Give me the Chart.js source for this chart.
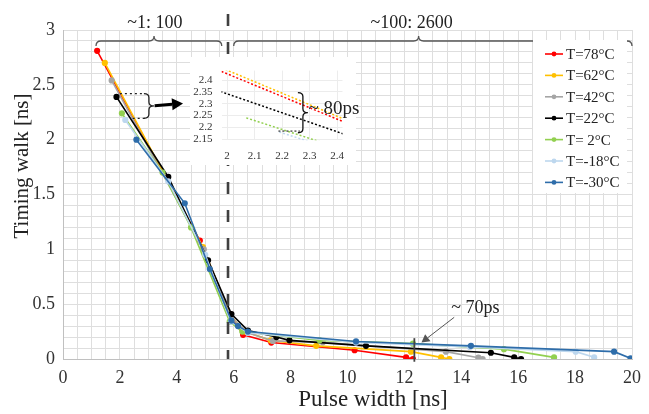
<!DOCTYPE html>
<html>
<head>
<meta charset="utf-8">
<script src="https://cdn.jsdelivr.net/npm/chart.js@4.4.1/dist/chart.umd.min.js"></script>
<style>
  body { margin: 0; background: #fff; }
  #wrap { position: relative; width: 649px; height: 414px; }
  #main { position: absolute; left: 0; top: 0; }
  #inset { position: absolute; left: 188px; top: 55px; }
</style>
</head>
<body>
<div id="wrap">
  <canvas id="main" width="649" height="414"></canvas>
  <canvas id="inset" width="185" height="112"></canvas>
</div>
<script>
// series: pulse width [ns] vs timing walk [ns]
const seriesLabels = ['T=78°C', 'T=62°C', 'T=42°C', 'T=22°C', 'T= 2°C', 'T=-18°C', 'T=-30°C'];
const seriesColors = ['#ff0000', '#ffc000', '#a5a5a5', '#000000', '#92d050', '#bdd7ee', '#2e6daa'];

const x78 = [1.2, 4.81, 5.88, 6.33, 7.32, 10.25, 12.06, 12.3];
const y78 = [2.81, 1.08, 0.41, 0.22, 0.15, 0.08, 0.015, 0.0];
const x62 = [1.47, 4.92, 5.9, 6.4, 7.3, 8.9, 12.23, 13.29, 13.58];
const y62 = [2.70, 1.02, 0.39, 0.25, 0.17, 0.12, 0.067, 0.015, 0.0];
const x42 = [1.71, 4.95, 5.9, 6.5, 7.38, 9.13, 13.46, 14.6, 14.75];
const y42 = [2.54, 1.0, 0.38, 0.24, 0.165, 0.152, 0.067, 0.012, 0.0];
const x22 = [1.88, 3.7, 5.1, 5.92, 6.5, 7.5, 7.96, 10.65, 15.04, 15.86, 16.1];
const y22 = [2.39, 1.66, 0.9, 0.41, 0.26, 0.2, 0.17, 0.12, 0.057, 0.015, 0.0];
const x2 = [2.07, 3.5, 4.5, 5.86, 6.3, 9.02, 12.3, 15.5, 17.26];
const y2 = [2.24, 1.70, 1.2, 0.34, 0.25, 0.17, 0.14, 0.09, 0.015];
const xm18 = [2.19, 3.7, 5.0, 5.9, 6.5, 10.3, 14.3, 18.02, 18.67];
const ym18 = [2.18, 1.62, 0.95, 0.34, 0.24, 0.15, 0.11, 0.067, 0.015];
const xm30 = [2.58, 4.28, 5.16, 5.92, 6.15, 6.5, 10.3, 14.34, 19.37, 19.95];
const ym30 = [2.0, 1.42, 0.82, 0.35, 0.30, 0.25, 0.16, 0.12, 0.067, 0.006];

const xTickLabels = [0, 2, 4, 6, 8, 10, 12, 14, 16, 18, 20];
const yTickLabels = [0, 0.5, 1, 1.5, 2, 2.5, 3];
const insetXTicks = [2, 2.1, 2.2, 2.3, 2.4];
const insetYTicks = [2.15, 2.2, 2.25, 2.3, 2.35, 2.4];

const seriesX = [x78, x62, x42, x22, x2, xm18, xm30];
const seriesY = [y78, y62, y42, y22, y2, ym18, ym30];

const breakX = 5.8;
const serif = "'Liberation Serif', 'Times New Roman', serif";
Chart.defaults.font.family = serif;

function pts(xs, ys) {
  return xs.map((x, i) => ({ x: x, y: ys[i] }));
}
function onList(v, list) {
  return list.some(t => Math.abs(t - v) < 1e-6);
}

function hBrace(ctx, x1, x2, xm, yb, h) {
  const r = 5;
  ctx.beginPath();
  ctx.moveTo(x1, yb + h);
  ctx.quadraticCurveTo(x1, yb, x1 + r, yb);
  ctx.lineTo(xm - r, yb);
  ctx.quadraticCurveTo(xm, yb, xm, yb - h);
  ctx.quadraticCurveTo(xm, yb, xm + r, yb);
  ctx.lineTo(x2 - r, yb);
  ctx.quadraticCurveTo(x2, yb, x2, yb + h);
  ctx.stroke();
}
function vBrace(ctx, x, y1, y2, w) {
  const ym = (y1 + y2) / 2, r = 4;
  ctx.beginPath();
  ctx.moveTo(x - w, y1);
  ctx.quadraticCurveTo(x, y1, x, y1 + r);
  ctx.lineTo(x, ym - r);
  ctx.quadraticCurveTo(x, ym, x + w, ym);
  ctx.quadraticCurveTo(x, ym, x, ym + r);
  ctx.lineTo(x, y2 - r);
  ctx.quadraticCurveTo(x, y2, x - w, y2);
  ctx.stroke();
}
function arrow(ctx, x1, y1, x2, y2, width, head, color) {
  const a = Math.atan2(y2 - y1, x2 - x1);
  const bx = x2 - head * Math.cos(a), by = y2 - head * Math.sin(a);
  ctx.strokeStyle = color; ctx.fillStyle = color; ctx.lineWidth = width;
  ctx.beginPath(); ctx.moveTo(x1, y1); ctx.lineTo(bx, by); ctx.stroke();
  ctx.beginPath();
  ctx.moveTo(x2, y2);
  ctx.lineTo(bx + head * 0.55 * Math.sin(a), by - head * 0.55 * Math.cos(a));
  ctx.lineTo(bx - head * 0.55 * Math.sin(a), by + head * 0.55 * Math.cos(a));
  ctx.closePath(); ctx.fill();
}

// dashed break line, braces, arrows and notes on the main chart
const annotations = {
  id: 'annotations',
  afterDatasetsDraw(chart) {
    const ctx = chart.ctx, sx = chart.scales.x, sy = chart.scales.y;
    const px = v => sx.getPixelForValue(v), py = v => sy.getPixelForValue(v);
    ctx.save();

    // break line
    ctx.strokeStyle = '#404040'; ctx.lineWidth = 2.6; ctx.setLineDash([12, 16]);
    ctx.beginPath(); ctx.moveTo(px(breakX), 14); ctx.lineTo(px(breakX), py(0)); ctx.stroke();
    ctx.setLineDash([]);

    // braces at the top
    ctx.strokeStyle = '#555'; ctx.lineWidth = 1.3;
    hBrace(ctx, px(1.16), px(5.58), px(3.2), 41, 5);
    hBrace(ctx, px(6.0), px(20), px(12.5), 41, 5);
    ctx.fillStyle = '#222'; ctx.font = '18px ' + serif;
    ctx.textAlign = 'center'; ctx.textBaseline = 'middle';
    ctx.fillText('~1: 100', px(3.23), 23);
    ctx.fillText('~100: 2600', px(12.25), 23);

    // dotted zoom bracket
    ctx.strokeStyle = '#222'; ctx.lineWidth = 1.3; ctx.setLineDash([2, 3]);
    ctx.beginPath();
    ctx.moveTo(px(2.0), py(2.42)); ctx.lineTo(px(2.88), py(2.42));
    ctx.moveTo(px(2.45), py(2.195)); ctx.lineTo(px(2.88), py(2.195));
    ctx.stroke();
    ctx.setLineDash([]);
    vBrace(ctx, px(3.02), py(2.42), py(2.195), 5);
    arrow(ctx, px(3.22), py(2.31), px(4.22), py(2.33), 3, 11, '#000');

    // ~70ps note
    ctx.strokeStyle = '#444'; ctx.lineWidth = 1.8;
    ctx.beginPath(); ctx.moveTo(px(12.35), py(0.19)); ctx.lineTo(px(12.35), py(-0.025)); ctx.stroke();
    arrow(ctx, px(13.75), py(0.38), px(12.6), py(0.15), 1, 8, '#555');
    ctx.fillStyle = '#222'; ctx.font = '18px ' + serif; ctx.textAlign = 'left';
    ctx.fillText('~ 70ps', px(13.65), py(0.465));

    ctx.restore();
  }
};

// axis titles and legend drawn inside the plot
const decorations = {
  id: 'decorations',
  afterDraw(chart) {
    const ctx = chart.ctx;
    ctx.save();
    ctx.fillStyle = '#222';
    ctx.textAlign = 'center'; ctx.textBaseline = 'middle';
    ctx.font = '21px ' + serif;
    ctx.save();
    ctx.translate(22, 166); ctx.rotate(-Math.PI / 2);
    ctx.fillText('Timing walk [ns]', 0, 0);
    ctx.restore();
    ctx.font = '23px ' + serif;
    ctx.fillText('Pulse width [ns]', 373, 400);

    // legend
    ctx.fillStyle = '#fff';
    ctx.fillRect(533, 40, 94, 153);
    ctx.font = '15px ' + serif; ctx.textAlign = 'left';
    chart.data.datasets.forEach((ds, i) => {
      const y = 54 + i * 21.4;
      ctx.strokeStyle = ds.borderColor; ctx.lineWidth = 1.6;
      ctx.beginPath(); ctx.moveTo(545, y); ctx.lineTo(563, y); ctx.stroke();
      ctx.fillStyle = ds.borderColor;
      ctx.beginPath(); ctx.arc(554, y, 2.4, 0, Math.PI * 2); ctx.fill();
      ctx.fillStyle = '#222';
      ctx.fillText(ds.label, 566, y + 1);
    });
    ctx.restore();
  }
};

new Chart(document.getElementById('main'), {
  type: 'scatter',
  data: {
    datasets: seriesLabels.map((label, i) => ({
      label: label,
      data: pts(seriesX[i], seriesY[i]),
      showLine: true,
      borderColor: seriesColors[i],
      backgroundColor: seriesColors[i],
      borderWidth: 1.6,
      pointRadius: 2.3,
      pointHoverRadius: 2.3,
      order: seriesLabels.length - i
    }))
  },
  options: {
    responsive: false,
    animation: false,
    devicePixelRatio: 1,
    layout: { padding: { top: 30, right: 15, left: 0, bottom: 0 } },
    plugins: { legend: { display: false }, tooltip: { enabled: false } },
    scales: {
      x: {
        type: 'linear', min: 0, max: 20,
        ticks: {
          stepSize: 0.5, autoSkip: false, maxRotation: 0, padding: 8,
          color: '#333', font: { size: 18 },
          callback: v => onList(v, xTickLabels) ? String(v) : ''
        },
        grid: { color: '#dedede', drawTicks: false },
        border: { color: '#c0c0c0' },
        afterFit: s => { s.height = 55; }
      },
      y: {
        type: 'linear', min: 0, max: 3,
        ticks: {
          stepSize: 0.1, autoSkip: false, padding: 8,
          color: '#333', font: { size: 18 },
          callback: v => onList(v, yTickLabels) ? String(v) : ''
        },
        grid: { color: '#dedede', drawTicks: false },
        border: { color: '#c0c0c0' },
        afterFit: s => { s.width = 63; }
      }
    }
  },
  plugins: [annotations, decorations]
});

// zoomed inset around pulse width 2.0 - 2.4 ns
const insetDecor = {
  id: 'insetDecor',
  beforeDraw(chart) {
    const ctx = chart.ctx;
    ctx.save();
    ctx.fillStyle = '#fff';
    ctx.fillRect(2, 2, 166, 108);
    ctx.restore();
  },
  afterDatasetsDraw(chart) {
    const ctx = chart.ctx, sx = chart.scales.x, sy = chart.scales.y;
    const px = v => sx.getPixelForValue(v), py = v => sy.getPixelForValue(v);
    ctx.save();
    ctx.strokeStyle = '#333'; ctx.lineWidth = 1.2; ctx.setLineDash([2, 2]);
    ctx.beginPath(); ctx.moveTo(px(2.187), py(2.184)); ctx.lineTo(px(2.265), py(2.184)); ctx.stroke();
    ctx.setLineDash([]);
    ctx.strokeStyle = '#111'; ctx.lineWidth = 1.3;
    vBrace(ctx, px(2.276), py(2.347), py(2.177), 5);
    ctx.fillStyle = '#222'; ctx.font = '19px ' + serif;
    ctx.textAlign = 'left'; ctx.textBaseline = 'middle';
    ctx.fillText('~ 80ps', px(2.296), py(2.279));
    ctx.restore();
  }
};

new Chart(document.getElementById('inset'), {
  type: 'scatter',
  data: {
    datasets: seriesLabels.map((label, i) => ({
      label: label,
      data: pts(seriesX[i], seriesY[i]),
      showLine: true,
      hidden: i === 2,
      borderColor: seriesColors[i],
      borderWidth: 1.5,
      borderDash: [2, 2],
      pointRadius: 0,
      order: seriesLabels.length - i
    }))
  },
  options: {
    responsive: false,
    animation: false,
    devicePixelRatio: 1,
    layout: { padding: { top: 7.4, right: 30.5, left: 0, bottom: 0 } },
    plugins: { legend: { display: false }, tooltip: { enabled: false } },
    scales: {
      x: {
        type: 'linear', min: 1.98, max: 2.42,
        afterBuildTicks: s => { s.ticks = insetXTicks.map(v => ({ value: v })); },
        ticks: { autoSkip: false, maxRotation: 0, padding: 9, color: '#333', font: { size: 11 }, callback: v => String(v) },
        grid: { color: '#ececec', drawTicks: false },
        border: { display: false },
        afterFit: s => { s.height = 26.7; }
      },
      y: {
        type: 'linear', min: 2.145, max: 2.44,
        afterBuildTicks: s => { s.ticks = insetYTicks.map(v => ({ value: v })); },
        ticks: { autoSkip: false, padding: 9, color: '#333', font: { size: 11 }, callback: v => String(v) },
        grid: { color: '#ececec', drawTicks: false },
        border: { display: false },
        afterFit: s => { s.width = 33.5; }
      }
    }
  },
  plugins: [insetDecor]
});
</script>
</body>
</html>
